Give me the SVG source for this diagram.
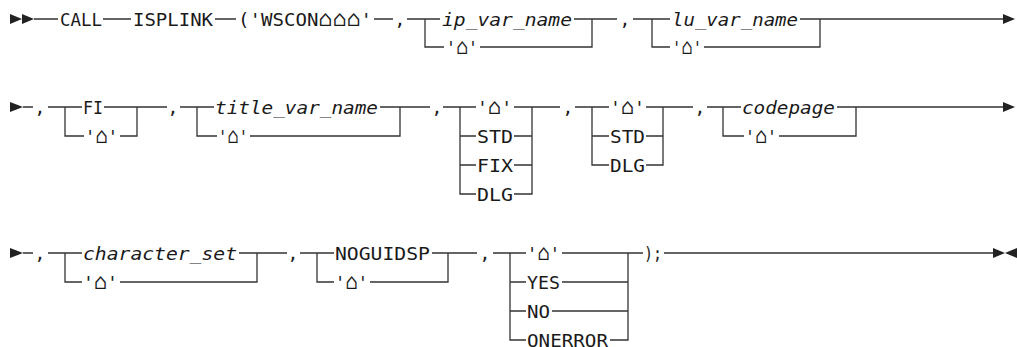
<svg xmlns="http://www.w3.org/2000/svg" width="1017" height="347" viewBox="0 0 1017 347">
<style>
.t{font-family:"DejaVu Sans Mono","Liberation Mono",monospace;font-size:18px;fill:#1a1a1a}
.i{font-style:italic}
.m{text-anchor:middle}
.h{font-family:"DejaVu Sans Mono",monospace;font-size:22px}
.c{stroke:#333;stroke-width:1.3;fill:none}
.a{fill:#222}
</style>
<rect width="1017" height="347" fill="#fff"/>
<g id="connectors">
<path class="c" d="M34 19 H58 M103 19 H131 M215 19 H236 M374 19 H393 M407 19 H440 M425 19 V47 H444 M574 19 H617 M592 19 V47 H480 M633 19 H670 M652 19 V47 H670 M800 19 H1003 M820 19 V47 H704"/>
<path class="c" d="M23 107 H33 M48 107 H82 M65 107 V136 H84 M104 107 H167 M137 107 V136 H120 M180 107 H214 M197 107 V136 H217 M380 107 H430 M400 107 V136 H250 M443 107 H476 M460 107 V194 H476 M460 136 H476 M460 165 H476 M514 107 H560 M532 107 V194 H514 M514 136 H532 M514 165 H532 M575 107 H609 M592 107 V165 H609 M592 136 H609 M646 107 H693 M663 107 V165 H646 M646 136 H663 M707 107 H741 M723 107 V136 H744 M837 107 H1003 M856 107 V136 H779"/>
<path class="c" d="M23 253 H33 M48 253 H82 M65 253 V282 H82 M239 253 H287 M257 253 V282 H120 M300 253 H334 M317 253 V282 H334 M432 253 H477 M448 253 V282 H370 M493 253 H526 M510 253 V340 H526 M510 282 H526 M510 311 H526 M562 253 H643 M628 253 V340 H610 M562 282 H628 M552 311 H628 M664 253 H993"/>
<polygon class="a" points="10,14 22,19 10,24"/>
<polygon class="a" points="22,14 34,19 22,24"/>
<polygon class="a" points="1003,14 1015,19 1003,24"/>
<polygon class="a" points="10,102 23,107 10,112"/>
<polygon class="a" points="1003,102 1015,107 1003,112"/>
<polygon class="a" points="10,248 23,253 10,258"/>
<polygon class="a" points="993,248 1005,253 993,258"/>
<polygon class="a" points="1017,248 1005,253 1017,258"/>
</g>
<g id="row1">
<g id="call"><text class="t" x="60" y="25.5" textLength="42" lengthAdjust="spacingAndGlyphs">CALL</text></g>
<g id="isplink"><text class="t" x="133" y="25.5" textLength="80" lengthAdjust="spacingAndGlyphs">ISPLINK</text></g>
<g id="wscon"><text class="t" x="238" y="25.5" textLength="134" lengthAdjust="spacingAndGlyphs">('WSCON<tspan class="h">⌂⌂⌂</tspan>'</text></g>
<g id="comma1a"><text class="t m" x="400" y="25.5">,</text></g>
<g id="ip"><text class="t i" x="442" y="25.5" textLength="130" lengthAdjust="spacingAndGlyphs">ip_var_name</text><text class="t" x="446" y="54" textLength="32" lengthAdjust="spacingAndGlyphs">'<tspan class="h">⌂</tspan>'</text></g>
<g id="comma1b"><text class="t m" x="625" y="25.5">,</text></g>
<g id="lu"><text class="t i" x="672" y="25.5" textLength="126" lengthAdjust="spacingAndGlyphs">lu_var_name</text><text class="t" x="672" y="54" textLength="30" lengthAdjust="spacingAndGlyphs">'<tspan class="h">⌂</tspan>'</text></g>
</g>
<g id="row2">
<g id="comma2a"><text class="t m" x="40" y="113.5">,</text></g>
<g id="fi"><text class="t" x="83" y="113.5" textLength="20" lengthAdjust="spacingAndGlyphs">FI</text><text class="t" x="85" y="143" textLength="33" lengthAdjust="spacingAndGlyphs">'<tspan class="h">⌂</tspan>'</text></g>
<g id="comma2b"><text class="t m" x="173" y="113.5">,</text></g>
<g id="title"><text class="t i" x="215" y="113.5" textLength="163" lengthAdjust="spacingAndGlyphs">title_var_name</text><text class="t" x="218" y="143" textLength="30" lengthAdjust="spacingAndGlyphs">'<tspan class="h">⌂</tspan>'</text></g>
<g id="comma2c"><text class="t m" x="437" y="113.5">,</text></g>
<g id="opt1">
<text class="t" x="477" y="113.5" textLength="35" lengthAdjust="spacingAndGlyphs">'<tspan class="h">⌂</tspan>'</text>
<text class="t" x="477" y="142.5" textLength="36" lengthAdjust="spacingAndGlyphs">STD</text>
<text class="t" x="477" y="171.5" textLength="36" lengthAdjust="spacingAndGlyphs">FIX</text>
<text class="t" x="477" y="200.5" textLength="36" lengthAdjust="spacingAndGlyphs">DLG</text>
</g>
<g id="comma2d"><text class="t m" x="568" y="113.5">,</text></g>
<g id="opt2">
<text class="t" x="610" y="113.5" textLength="35" lengthAdjust="spacingAndGlyphs">'<tspan class="h">⌂</tspan>'</text>
<text class="t" x="610" y="142.5" textLength="35" lengthAdjust="spacingAndGlyphs">STD</text>
<text class="t" x="610" y="171.5" textLength="35" lengthAdjust="spacingAndGlyphs">DLG</text>
</g>
<g id="comma2e"><text class="t m" x="700" y="113.5">,</text></g>
<g id="codepage"><text class="t i" x="742" y="113.5" textLength="93" lengthAdjust="spacingAndGlyphs">codepage</text><text class="t" x="745" y="143" textLength="32" lengthAdjust="spacingAndGlyphs">'<tspan class="h">⌂</tspan>'</text></g>
</g>
<g id="row3">
<g id="comma3a"><text class="t m" x="40" y="259.5">,</text></g>
<g id="charset"><text class="t i" x="83" y="259.5" textLength="154" lengthAdjust="spacingAndGlyphs">character_set</text><text class="t" x="83" y="289" textLength="35" lengthAdjust="spacingAndGlyphs">'<tspan class="h">⌂</tspan>'</text></g>
<g id="comma3b"><text class="t m" x="293" y="259.5">,</text></g>
<g id="noguidsp"><text class="t" x="335" y="259.5" textLength="95" lengthAdjust="spacingAndGlyphs">NOGUIDSP</text><text class="t" x="335" y="289" textLength="33" lengthAdjust="spacingAndGlyphs">'<tspan class="h">⌂</tspan>'</text></g>
<g id="comma3c"><text class="t m" x="485" y="259.5">,</text></g>
<g id="opt3">
<text class="t" x="527" y="259.5" textLength="33" lengthAdjust="spacingAndGlyphs">'<tspan class="h">⌂</tspan>'</text>
<text class="t" x="527" y="288.5" textLength="33" lengthAdjust="spacingAndGlyphs">YES</text>
<text class="t" x="527" y="317.5" textLength="23" lengthAdjust="spacingAndGlyphs">NO</text>
<text class="t" x="527" y="346.5" textLength="81" lengthAdjust="spacingAndGlyphs">ONERROR</text>
</g>
<g id="close"><text class="t" x="644" y="259.5" textLength="18" lengthAdjust="spacingAndGlyphs">);</text></g>
</g>
</svg>
